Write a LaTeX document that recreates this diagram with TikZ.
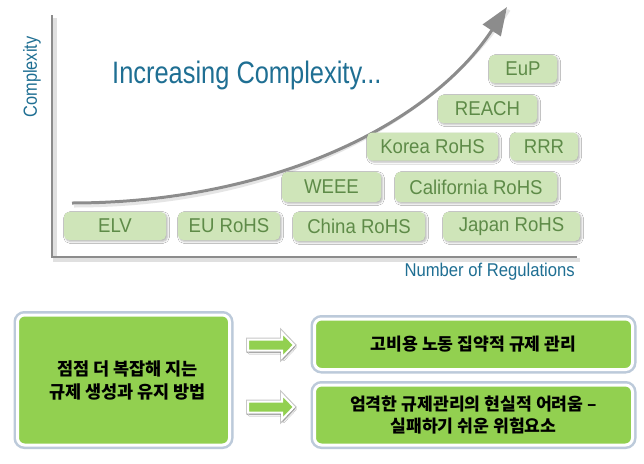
\documentclass[tikz,border=0pt]{standalone}
\usepackage{fontspec}
\setmainfont{Liberation Sans}
\newfontfamily\narrowfont[FakeStretch=0.82]{Liberation Sans}
\newfontfamily\labelfont[FakeStretch=0.86]{Liberation Sans}
\newfontfamily\boxfont[FakeStretch=0.93]{Liberation Sans}
\newfontfamily\axisfont[FakeStretch=0.9]{Liberation Sans}
\newfontfamily\kofont{Noto Sans CJK KR}
\usetikzlibrary{arrows.meta,shadows.blur}
\definecolor{axisgray}{HTML}{8C8C8C}
\definecolor{titleblue}{HTML}{1F6F93}
\definecolor{regfill}{HTML}{CFE5B9}
\definecolor{regtext}{HTML}{5E8B48}
\definecolor{gbright}{HTML}{92D050}
\definecolor{framecol}{HTML}{BCCADA}
\tikzset{
  regbox/.style={rounded corners=5pt, fill=regfill, text=regtext, inner sep=0pt,
    minimum height=28pt, font=\boxfont\fontsize{20}{22}\selectfont,
    blur shadow={shadow xshift=1.5pt, shadow yshift=-1.5pt, shadow blur radius=2pt, shadow opacity=30}},
  greenbox/.style={rounded corners=7pt, fill=gbright, draw=white, line width=3pt,
    preaction={draw=framecol, line width=8pt},
    inner sep=0pt, align=center, text=black,
    font=\kofont\bfseries\fontsize{17.2}{22}\selectfont},
  curvestyle/.style={draw=axisgray, line width=3pt, -{Triangle[length=28pt,width=21pt]}},
  blockarrow/.pic={
    \draw[fill=gbright, draw=white, line width=2pt, line join=miter,
      preaction={draw=black!22, line width=4pt},
      blur shadow={shadow xshift=1pt, shadow yshift=-2pt, shadow blur radius=1.5pt, shadow opacity=35}]
      (0,-5.5) -- (34,-5.5) -- (34,-12.5) -- (46,0) -- (34,12.5) -- (34,5.5) -- (0,5.5) -- cycle;
  }
}
\begin{document}
\begin{tikzpicture}[x=1pt,y=-1pt]
\useasboundingbox (0,0) rectangle (644,463);
\fill[white] (0,0) rectangle (644,463);
% axes
\coordinate (ytop) at (52,15);
\coordinate (orig) at (52,257);
\coordinate (xend) at (577,257);
\draw[black!12, line width=4pt] ([shift={(3,3)}]ytop) -- ([shift={(3,3)}]orig) -- ([shift={(3,3)}]xend);
\draw[axisgray, line width=2pt] (ytop) -- (orig) -- (xend);
\node[rotate=90, inner sep=0pt, text=titleblue, font=\labelfont\fontsize{19}{20}\selectfont] (ylab) at (32,77) {Complexity};
\node[anchor=east, inner sep=0pt, text=titleblue, font=\axisfont\fontsize{18.5}{20}\selectfont] (xlab) at (575,272) {Number of Regulations};
\node[anchor=west, inner sep=0pt, text=titleblue, font=\narrowfont\fontsize{31}{33}\selectfont] (title) at (112,75) {Increasing Complexity...};
% curve
\coordinate (cs) at (72,203);
\coordinate (ce) at (507,7);
\draw[black!10, line width=3pt] ([shift={(2,3)}]cs) .. controls (272,206) and (432,128) .. ([shift={(2,3)}]ce);
\draw[curvestyle] (cs) .. controls (270,203) and (430,125) .. (ce);
% regulation boxes
\node[regbox, minimum width=102pt] (elv) at (115,226) {ELV};
\node[regbox, minimum width=102pt] (eurohs) at (229,226) {EU RoHS};
\node[regbox, minimum width=132pt, minimum height=29pt] (china) at (359,226.5) {China RoHS};
\node[regbox, minimum width=137pt, minimum height=29pt] (japan) at (511.5,226.5) {\raisebox{2pt}{Japan RoHS}};
\node[regbox, minimum width=99pt, minimum height=30pt] (weee) at (331.5,187) {WEEE};
\node[regbox, minimum width=162pt, minimum height=30pt] (calif) at (476,187) {California RoHS};
\node[regbox, minimum width=131pt] (korea) at (432.5,146.5) {Korea RoHS};
\node[regbox, minimum width=68pt] (rrr) at (544,146.5) {RRR};
\node[regbox, minimum width=99pt] (reach) at (487.5,109) {REACH};
\node[regbox, minimum width=68pt] (eup) at (523,69) {EuP};
% bottom boxes
\node[greenbox, minimum width=212pt, minimum height=130pt, font=\kofont\bfseries\fontsize{17.5}{23}\selectfont] (left) at (123.5,380) {\hspace*{8pt}점점 더 복잡해 지는\\\hspace*{8pt}규제 생성과 유지 방법};
\node[greenbox, minimum width=318pt, minimum height=50.5pt] (rtop) at (473.5,344.25) {고비용 노동 집약적 규제 관리};
\node[greenbox, minimum width=318pt, minimum height=60pt] (rbot) at (473.5,415) {엄격한 규제관리의 현실적 어려움 –\\실패하기 쉬운 위험요소};
\pic at (248,345) {blockarrow};
\pic at (248,407) {blockarrow};
\end{tikzpicture}
\end{document}
